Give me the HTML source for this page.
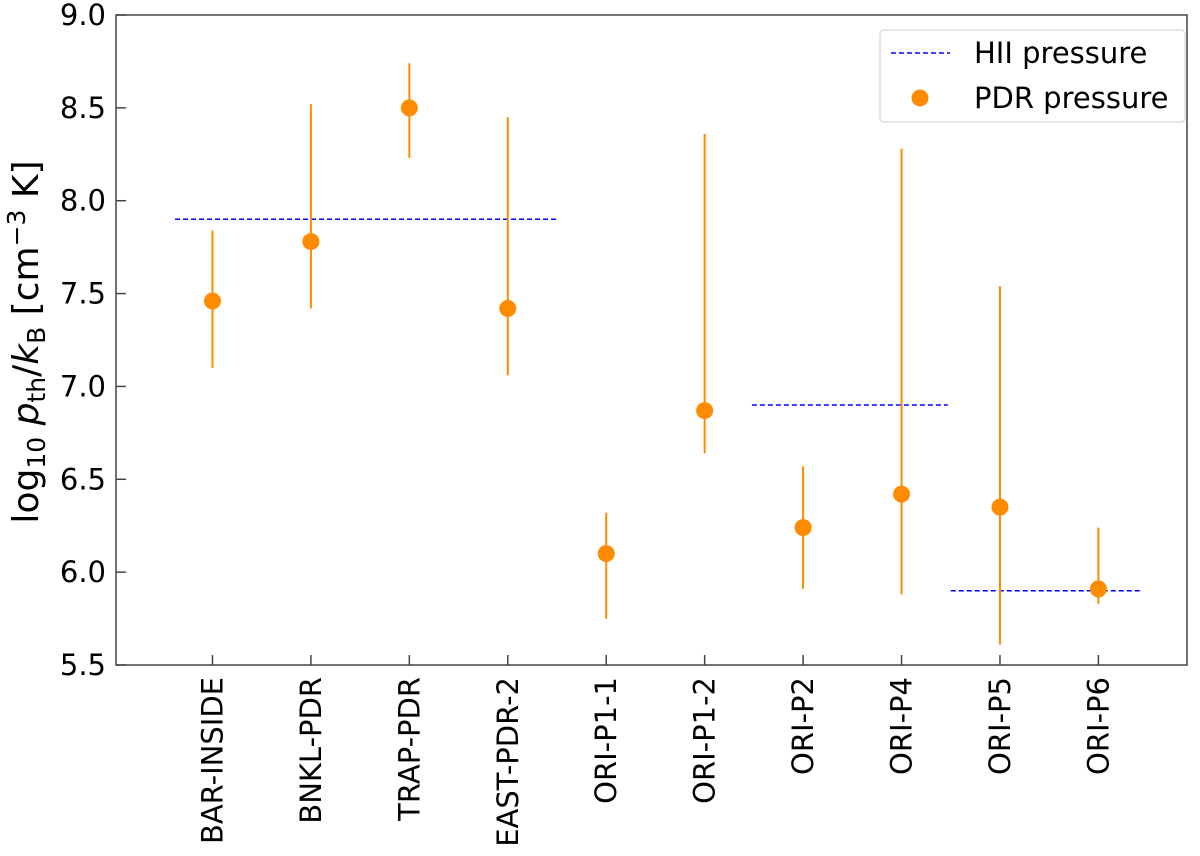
<!DOCTYPE html>
<html><head><meta charset="utf-8"><style>
body{margin:0;background:#fff;}
svg{display:block;font-family:"DejaVu Sans","Liberation Sans",sans-serif;}
</style></head><body>
<svg id="chart" width="1200" height="856" viewBox="0 0 1200 856">
<rect x="0" y="0" width="1200" height="856" fill="#fff"/>
<g id="marks"></g>
<g id="axes"></g>
<text transform="translate(38,342) rotate(-90)" text-anchor="middle" font-size="36" fill="#000">log<tspan font-size="25" dy="7">10</tspan><tspan dy="-7" font-style="italic"> p</tspan><tspan font-size="25" dy="7">th</tspan><tspan dy="-7">/</tspan><tspan font-style="italic">k</tspan><tspan font-size="25" dy="7">B</tspan><tspan dy="-7"> [cm</tspan><tspan font-size="25" dy="-13">−3</tspan><tspan dy="13"> K]</tspan></text>
<g>
<rect x="880" y="30" width="305" height="92" rx="4" fill="#fff" stroke="#ddd" stroke-width="1.5"/>
<line x1="891" y1="53" x2="950" y2="53" stroke="#0000ff" stroke-width="1.5" stroke-dasharray="5,3"/>
<text x="974" y="63" font-size="29">HII pressure</text>
<circle cx="920" cy="98" r="8.5" fill="#ff8c00"/>
<text x="974" y="108" font-size="29">PDR pressure</text>
</g>
</svg>
<script>
const categories=["BAR-INSIDE","BNKL-PDR","TRAP-PDR","EAST-PDR-2","ORI-P1-1","ORI-P1-2","ORI-P2","ORI-P4","ORI-P5","ORI-P6"];
const pdrValues=[7.46,7.78,8.50,7.42,6.10,6.87,6.24,6.42,6.35,5.91];
const pdrLow=[7.10,7.42,8.23,7.06,5.75,6.64,5.91,5.88,5.61,5.83];
const pdrHigh=[7.84,8.52,8.74,8.45,6.32,8.36,6.57,8.28,7.54,6.24];
const hiiValues=[7.9,6.9,5.9];
const hiiStart=[-0.38,5.48,7.5];
const hiiEnd=[3.5,7.47,9.45];
const yTicks=[5.5,6.0,6.5,7.0,7.5,8.0,8.5,9.0];
const yTickLabels=["5.5","6.0","6.5","7.0","7.5","8.0","8.5","9.0"];

const L=116,R=1187,T=15,B=665;
const xMin=-0.98,xMax=9.9,yMin=5.5,yMax=9.0;
const xs=i=>L+(i-xMin)/(xMax-xMin)*(R-L);
const ys=v=>B-(v-yMin)/(yMax-yMin)*(B-T);
const NS="http://www.w3.org/2000/svg";
function mk(tag,attrs,parent){const e=document.createElementNS(NS,tag);for(const k in attrs)e.setAttribute(k,attrs[k]);parent.appendChild(e);return e;}
const marks=document.getElementById('marks'),axes=document.getElementById('axes');

hiiValues.forEach((v,i)=>{
  const l=mk('line',{x1:xs(hiiStart[i]),x2:xs(hiiEnd[i]),y1:ys(v),y2:ys(v),stroke:'#0000ff','stroke-width':1.5,'stroke-dasharray':'5,3'},marks);
  
  
});
pdrValues.forEach((v,i)=>{
  const x=xs(i);
  const e=mk('line',{x1:x,x2:x,y1:ys(pdrLow[i]),y2:ys(pdrHigh[i]),stroke:'#ff8c00','stroke-width':2},marks);
  
  
  const c=mk('circle',{cx:x,cy:ys(v),r:8.5,fill:'#ff8c00'},marks);
  
  
});
const frame=mk('rect',{x:L,y:T,width:R-L,height:B-T,fill:'none',stroke:'#444','stroke-width':1.5},axes);


yTicks.forEach((v,i)=>{
  const y=ys(v);
  mk('line',{x1:L,x2:L+10,y1:y,y2:y,stroke:'#444','stroke-width':1.5},axes);
  const t=mk('text',{x:L-10,y:y+10,'text-anchor':'end','font-size':29,fill:'#000'},axes);
  t.textContent=yTickLabels[i];
  
  
});
categories.forEach((c,i)=>{
  const x=xs(i);
  mk('line',{x1:x,x2:x,y1:B,y2:B-10,stroke:'#444','stroke-width':1.5},axes);
  const t=mk('text',{transform:`translate(${x+10},${B+12}) rotate(-90)`,'text-anchor':'end','font-size':29,fill:'#000'},axes);
  t.textContent=c;
  
  
});
</script>
</body></html>
